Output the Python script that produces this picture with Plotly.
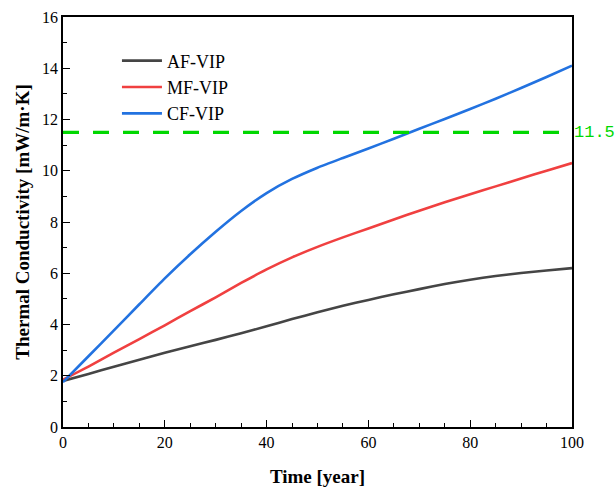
import plotly.graph_objects as go

years = [0, 5, 10, 15, 20, 25, 30, 35, 40, 45, 50, 55, 60, 65, 70, 75, 80, 85, 90, 95, 100]
af_vip = [1.8, 2.07, 2.35, 2.62, 2.9, 3.15, 3.4, 3.66, 3.93, 4.21, 4.48, 4.73, 4.96, 5.18, 5.38, 5.58, 5.75, 5.89, 6.01, 6.11, 6.2]
mf_vip = [1.85, 2.36, 2.9, 3.43, 3.97, 4.52, 5.06, 5.62, 6.15, 6.62, 7.03, 7.4, 7.75, 8.1, 8.44, 8.77, 9.08, 9.39, 9.7, 10.0, 10.3]
cf_vip = [1.75, 2.76, 3.77, 4.79, 5.8, 6.74, 7.62, 8.43, 9.13, 9.68, 10.12, 10.5, 10.87, 11.25, 11.64, 12.02, 12.41, 12.81, 13.23, 13.66, 14.1]
threshold = 11.5

SERIF = "Liberation Serif"

fig = go.Figure()
for name, ys, col in [("AF-VIP", af_vip, "#454545"),
                      ("MF-VIP", mf_vip, "#F04040"),
                      ("CF-VIP", cf_vip, "#2272E0")]:
    fig.add_trace(go.Scatter(x=years, y=ys, mode="lines", name=name,
                             line=dict(color=col, width=2.6, shape="spline", smoothing=0.6)))

fig.add_trace(go.Scatter(x=[years[0], years[-1]], y=[threshold, threshold], mode="lines",
                         showlegend=False, line=dict(color="#00D800", width=3.2, dash="16px,14px")))
fig.add_annotation(x=1.0, xref="paper", y=threshold, yref="y", text=f"{threshold}",
                   showarrow=False, xanchor="left", xshift=0,
                   font=dict(family="Liberation Mono", size=17, color="#00D800"))

axis_common = dict(showline=True, linecolor="black", linewidth=1.5, mirror=True,
                   ticks="inside", ticklen=7, tickwidth=1.3, tickcolor="black",
                   showgrid=False, zeroline=False,
                   tickfont=dict(family=SERIF, size=16, color="black"))

fig.update_xaxes(range=[0, 100], dtick=20, title=dict(text="<b>Time [year]</b>",
                 font=dict(family=SERIF, size=19, color="black"), standoff=20),
                 minor=dict(dtick=5, ticks="inside", ticklen=4, tickwidth=1.2, tickcolor="black"),
                 **axis_common)
fig.update_yaxes(range=[0, 16], dtick=2, title=dict(text="<b>Thermal Conductivity [mW/m·K]</b>",
                 font=dict(family=SERIF, size=19, color="black"), standoff=7),
                 minor=dict(dtick=1, ticks="inside", ticklen=4, tickwidth=1.2, tickcolor="black"),
                 **axis_common)

fig.update_layout(
    width=616, height=487,
    margin=dict(l=63, r=44, t=17, b=60, autoexpand=False),
    plot_bgcolor="white", paper_bgcolor="white",
    legend=dict(x=0.106, y=0.938, xanchor="left", yanchor="top", bgcolor="rgba(0,0,0,0)",
                font=dict(family=SERIF, size=18, color="black"), tracegroupgap=0, itemwidth=40),
    showlegend=True,
)

fig.write_html("out.html", config={"displayModeBar": False},
               post_script="document.body.style.margin='0';document.body.style.overflow='hidden';")
